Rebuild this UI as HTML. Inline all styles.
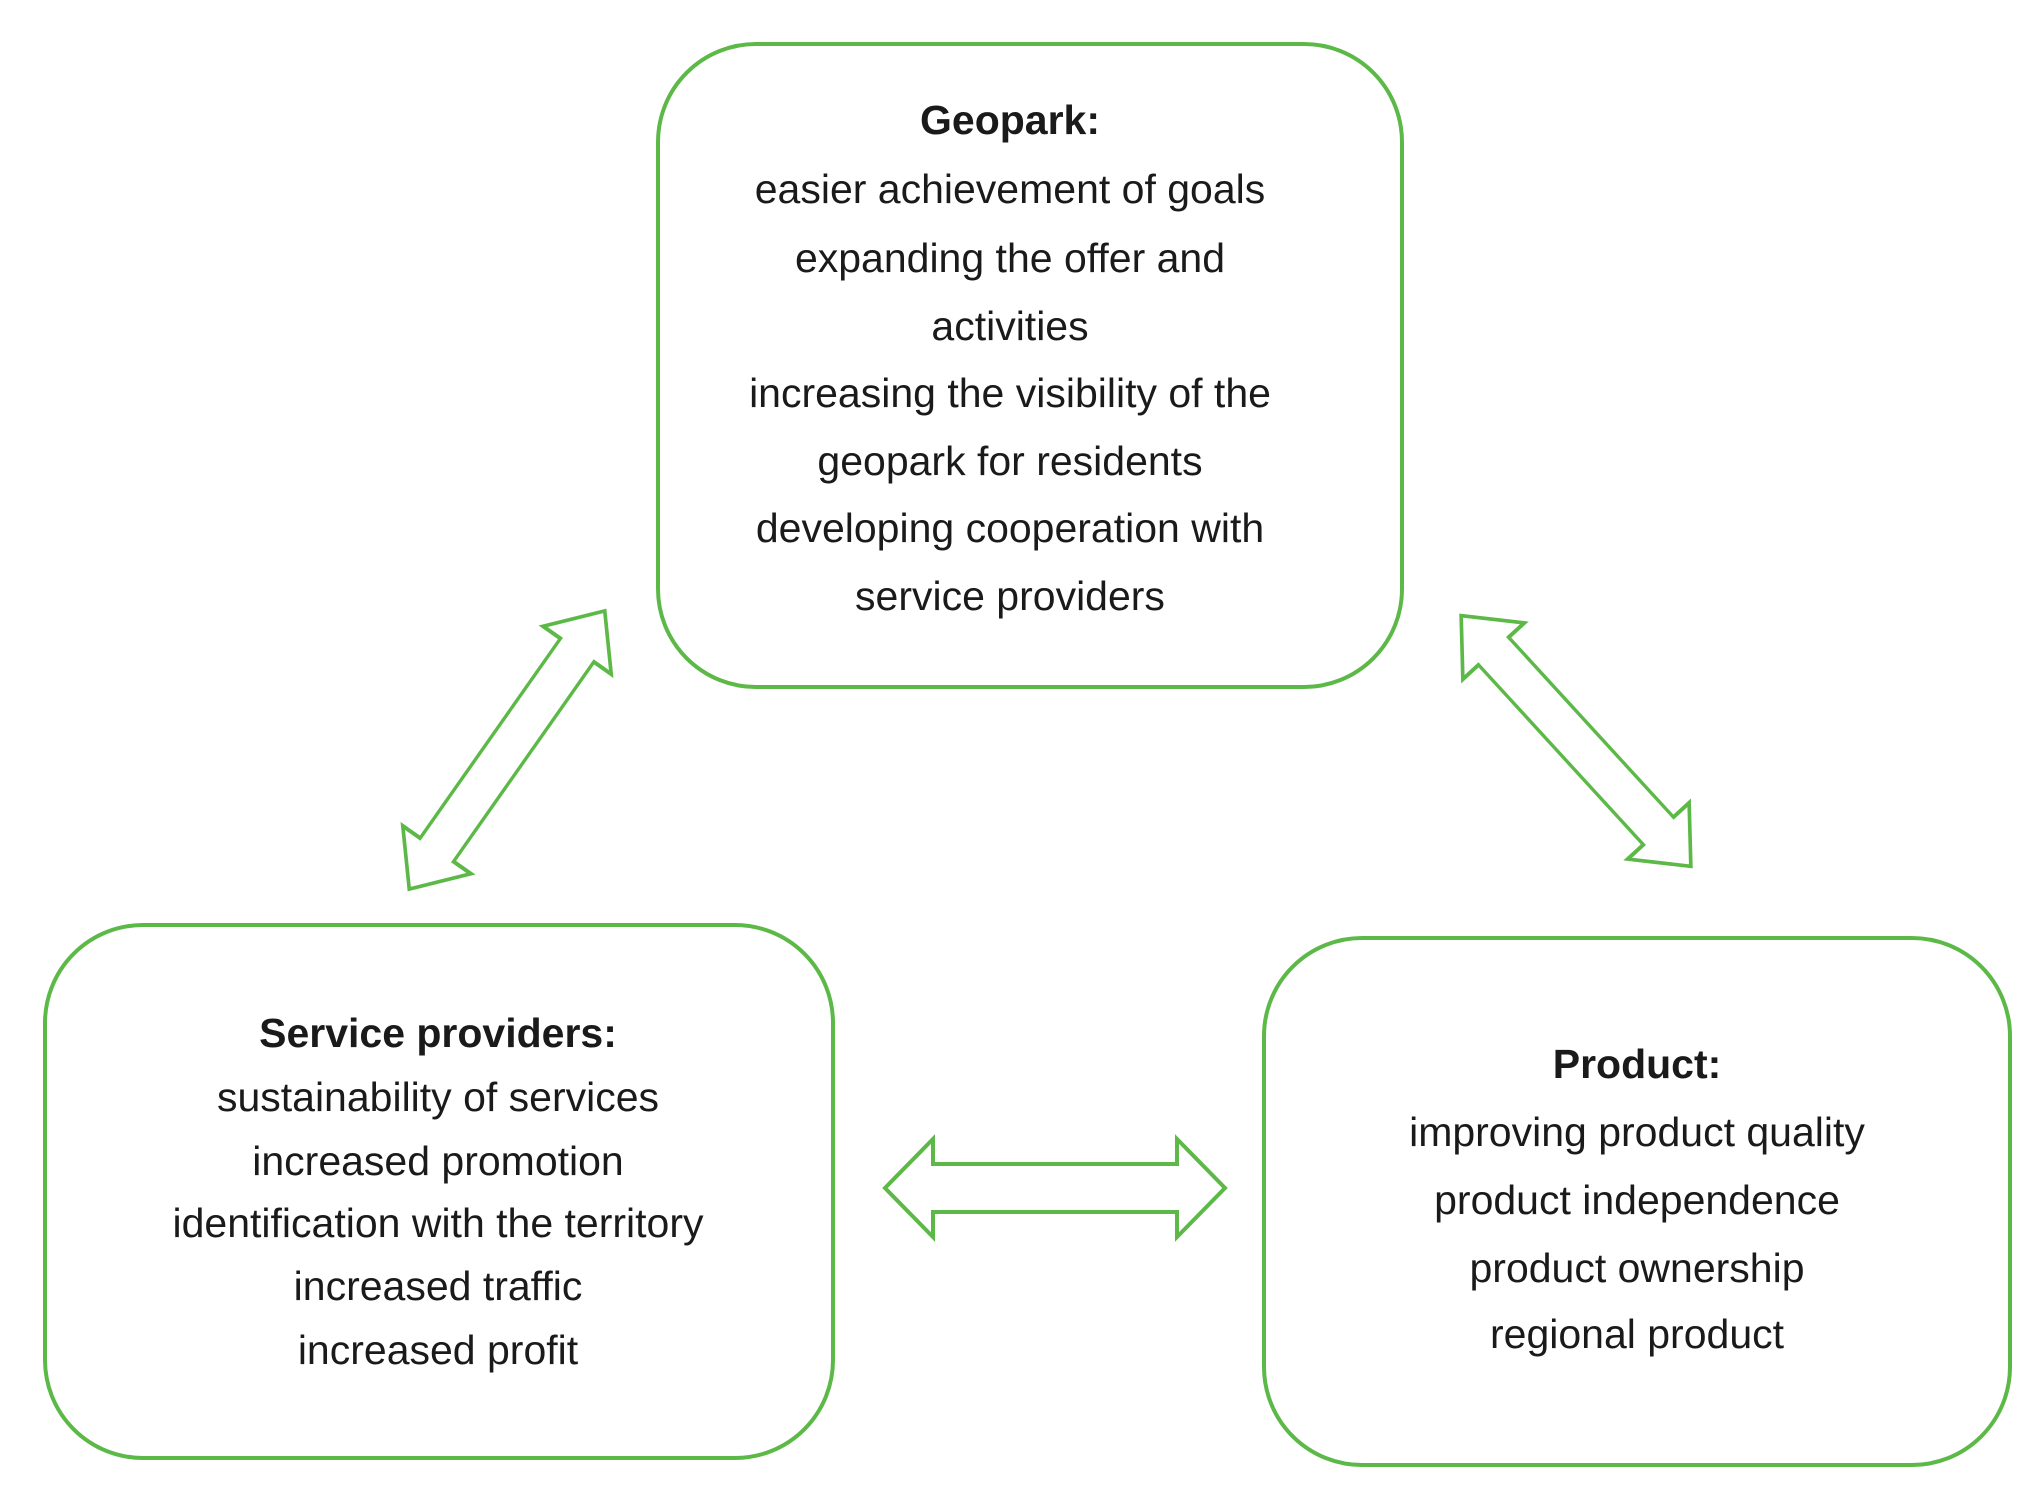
<!DOCTYPE html>
<html><head><meta charset="utf-8"><style>
html,body{margin:0;padding:0;background:#fff;}
body{width:2034px;height:1494px;position:relative;overflow:hidden;font-family:"Liberation Sans",sans-serif;color:#1a1a1a;}
.box{position:absolute;border:4px solid #5cb947;border-radius:100px;box-sizing:border-box;}
.t{position:absolute;left:0;width:2034px;text-align:center;font-size:41px;line-height:1;white-space:nowrap;}
.b{font-weight:bold;}
</style></head><body>
<div class="box" style="left:656px;top:42px;width:748px;height:647px;"></div>
<div class="box" style="left:43px;top:923px;width:792px;height:537px;"></div>
<div class="box" style="left:1262px;top:936px;width:750px;height:531px;"></div>

<svg width="2034" height="1494" style="position:absolute;left:0;top:0">
<defs>
<polygon id="arr" points="-170,0 -122,-49 -122,-24 122,-24 122,-49 170,0 122,49 122,24 -122,24 -122,49" fill="none" stroke="#5cb947" stroke-width="4" stroke-linejoin="miter"/>
</defs>
<use href="#arr" transform="translate(1055,1188)"/>
<use href="#arr" transform="translate(507,750) rotate(-54.9) scale(1,0.85)"/>
<use href="#arr" transform="translate(1576,741) rotate(47.5) scale(1,0.85)"/>
</svg>

<div style="position:absolute;left:0;top:0;width:2034px;">
<div class="t b" style="left:-7px;top:100px;">Geopark:</div>
<div class="t" style="left:-7px;top:169px;">easier achievement of goals</div>
<div class="t" style="left:-7px;top:238px;">expanding the offer and</div>
<div class="t" style="left:-7px;top:306px;">activities</div>
<div class="t" style="left:-7px;top:373px;">increasing the visibility of the</div>
<div class="t" style="left:-7px;top:441px;">geopark for residents</div>
<div class="t" style="left:-7px;top:508px;">developing cooperation with</div>
<div class="t" style="left:-7px;top:576px;">service providers</div>

<div class="t b" style="left:-579px;top:1013px;">Service providers:</div>
<div class="t" style="left:-579px;top:1077px;">sustainability of services</div>
<div class="t" style="left:-579px;top:1141px;">increased promotion</div>
<div class="t" style="left:-579px;top:1203px;">identification with the territory</div>
<div class="t" style="left:-579px;top:1266px;">increased traffic</div>
<div class="t" style="left:-579px;top:1330px;">increased profit</div>

<div class="t b" style="left:620px;top:1044px;">Product:</div>
<div class="t" style="left:620px;top:1112px;">improving product quality</div>
<div class="t" style="left:620px;top:1180px;">product independence</div>
<div class="t" style="left:620px;top:1248px;">product ownership</div>
<div class="t" style="left:620px;top:1314px;">regional product</div>
</div>
</body></html>
